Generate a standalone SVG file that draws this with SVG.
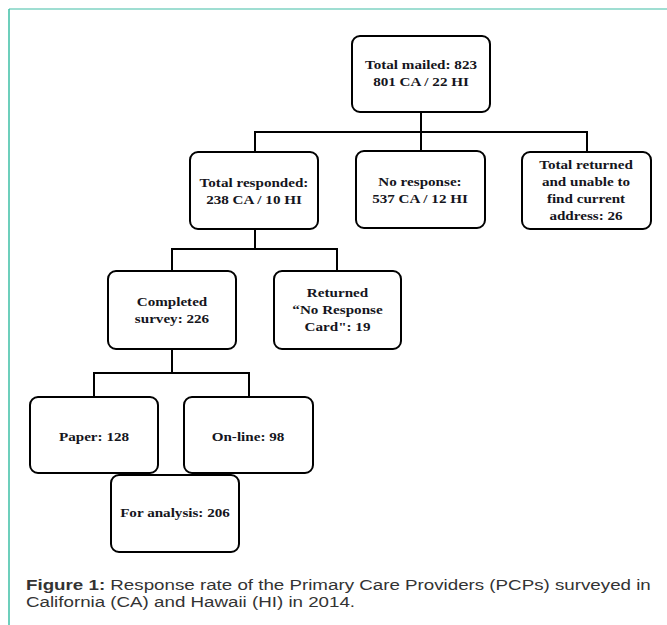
<svg xmlns="http://www.w3.org/2000/svg" width="667" height="625" viewBox="0 0 667 625">
<style>
.box{fill:#fff;stroke:#000;stroke-width:2}
.lbl{font-family:"Liberation Serif","Times New Roman",serif;font-weight:bold;font-size:13.5px;fill:#151520;text-anchor:middle}
.conn{fill:none;stroke:#000;stroke-width:2}
.cap{font-family:"Liberation Sans",Arial,sans-serif;font-size:15.5px;fill:#333}
</style>
<rect x="0" y="0" width="667" height="625" fill="#fff"/>
<g id="frame">
<line x1="9" y1="9" x2="667" y2="9" stroke="#7fd3c3" stroke-width="1.5"/>
<line x1="9" y1="9" x2="9" y2="625" stroke="#3dbfa6" stroke-width="1.5"/>
</g>
<g id="connectors">
<path class="conn" d="M421 112V132M255 152V132H587V152M421 132V152"/>
<path class="conn" d="M255 229V249M172 271V249H337V271"/>
<path class="conn" d="M172 349V373M94 397V373H249V397"/>
</g>
<g id="n-mailed">
<rect class="box" x="352" y="36" width="138" height="76" rx="8"/>
<g transform="translate(421 0) scale(1.12 1)">
<text class="lbl" x="0" y="69">Total mailed: 823</text>
<text class="lbl" x="0" y="86">801 CA  /  22 HI</text>
</g>
</g>
<g id="n-responded">
<rect class="box" x="190" y="152" width="128" height="77" rx="8"/>
<g transform="translate(254 0) scale(1.12 1)">
<text class="lbl" x="0" y="187">Total responded:</text>
<text class="lbl" x="0" y="204">238 CA / 10 HI</text>
</g>
</g>
<g id="n-noresponse">
<rect class="box" x="356" y="151" width="129" height="77" rx="8"/>
<g transform="translate(420 0) scale(1.12 1)">
<text class="lbl" x="0" y="186">No response:</text>
<text class="lbl" x="0" y="203">537 CA / 12 HI</text>
</g>
</g>
<g id="n-returned-addr">
<rect class="box" x="522" y="152" width="129" height="77" rx="8"/>
<g transform="translate(586 0) scale(1.12 1)">
<text class="lbl" x="0" y="169">Total returned</text>
<text class="lbl" x="0" y="186">and unable to</text>
<text class="lbl" x="0" y="203">find current</text>
<text class="lbl" x="0" y="220">address: 26</text>
</g>
</g>
<g id="n-completed">
<rect class="box" x="108" y="271" width="128" height="78" rx="8"/>
<g transform="translate(172 0) scale(1.12 1)">
<text class="lbl" x="0" y="306">Completed</text>
<text class="lbl" x="0" y="323">survey: 226</text>
</g>
</g>
<g id="n-returned-card">
<rect class="box" x="274" y="271" width="127" height="78" rx="8"/>
<g transform="translate(337.5 0) scale(1.12 1)">
<text class="lbl" x="0" y="297">Returned</text>
<text class="lbl" x="0" y="314">“No Response</text>
<text class="lbl" x="0" y="331">Card": 19</text>
</g>
</g>
<g id="n-paper">
<rect class="box" x="30" y="397" width="128" height="76" rx="8"/>
<g transform="translate(94 0) scale(1.12 1)">
<text class="lbl" x="0" y="441">Paper: 128</text>
</g>
</g>
<g id="n-online">
<rect class="box" x="184" y="397" width="129" height="76" rx="8"/>
<g transform="translate(248 0) scale(1.12 1)">
<text class="lbl" x="0" y="441">On-line: 98</text>
</g>
</g>
<g id="n-analysis">
<rect class="box" x="111" y="475" width="128" height="77" rx="8"/>
<g transform="translate(175 0) scale(1.12 1)">
<text class="lbl" x="0" y="517">For analysis: 206</text>
</g>
</g>
<g id="caption" transform="translate(26 0) scale(1.21 1)">
<text class="cap" x="0" y="590"><tspan font-weight="bold">Figure 1:</tspan> Response rate of the Primary Care Providers (PCPs) surveyed in</text>
<text class="cap" x="0" y="607">California (CA) and Hawaii (HI) in 2014.</text>
</g>
</svg>
